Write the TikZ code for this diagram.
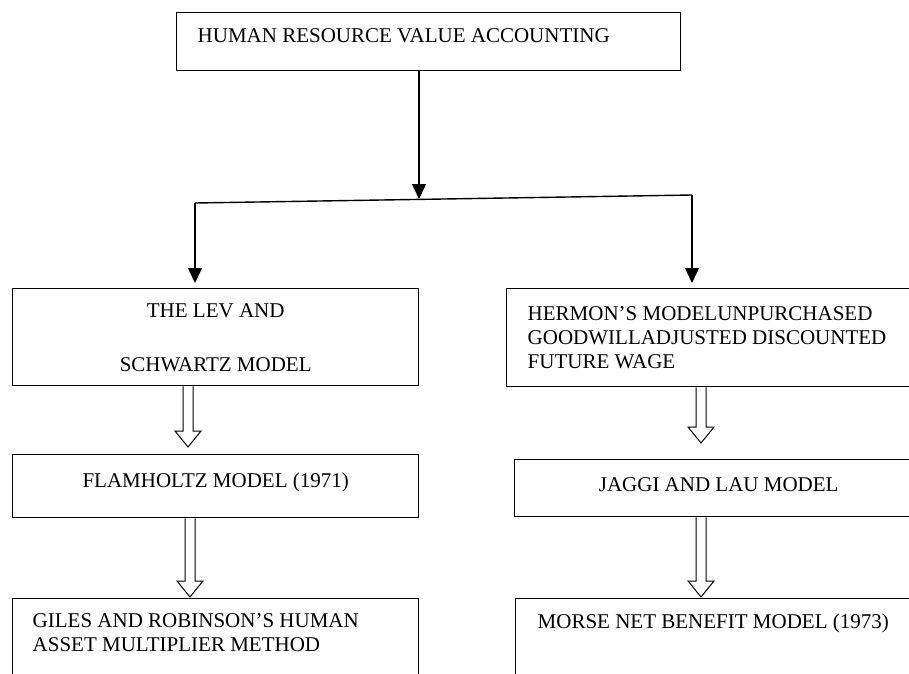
\documentclass[tikz,border=0pt]{standalone}
\usepackage{fontspec}
\setmainfont{Liberation Serif}
\usetikzlibrary{arrows.meta,calc}

\newcommand{\hollowarrow}[4]{%
  \draw[hollow] let \p1=(#1.south), \p2=(#2.north) in
    (#3pt-5pt,\y1) -- (#3pt-5pt,\y2+#4pt+16pt) -- (#3pt-13pt,\y2+#4pt+16pt)
    -- (#3pt,\y2+#4pt) -- (#3pt+13pt,\y2+#4pt+16pt) -- (#3pt+5pt,\y2+#4pt+16pt)
    -- (#3pt+5pt,\y1);}

\begin{document}
\begin{tikzpicture}[
    x=1pt, y=-1pt,
    >={Triangle[length=15pt,width=14pt]},
    every node/.style={font=\fontsize{21pt}{24pt}\selectfont},
    block/.style={
        draw,
        line width=1.4pt,
        anchor=north west,
        inner sep=0pt
    },
    link/.style={line width=1.4pt},
    hollow/.style={line width=1pt, line join=miter}
]
\clip (0,0) rectangle (909,673);

\node[block, inner xsep=21pt, inner ysep=16pt] (hrva) at (176,12)
    {\parbox[t][26pt][t]{462pt}{\raggedright HUMAN RESOURCE VALUE ACCOUNTING}};
\node[block, inner xsep=10pt, inner ysep=15pt] (lev) at (12,288)
    {\parbox[t][67pt][t]{386pt}{\centering THE LEV AND\\[30pt]SCHWARTZ MODEL}};
\node[block, inner xsep=21pt, inner ysep=18pt] (hermon) at (506,288)
    {\parbox[t][62pt][t]{377pt}{\raggedright HERMON’S MODELUNPURCHASED\\GOODWILLADJUSTED DISCOUNTED\\FUTURE WAGE}};
\node[block, inner xsep=10pt, inner ysep=18pt] (flam) at (12,454)
    {\parbox[t][27pt][t]{386pt}{\centering FLAMHOLTZ MODEL (1971)}};
\node[block, inner xsep=10pt, inner ysep=18pt] (jaggi) at (514,459)
    {\parbox[t][21pt][t]{388pt}{\centering JAGGI AND LAU MODEL}};
\node[block, inner xsep=20pt, inner ysep=15pt] (giles) at (12,598)
    {\parbox[t][70pt][t]{366pt}{\raggedright GILES AND ROBINSON’S HUMAN\\ASSET MULTIPLIER METHOD}};
\node[block, inner xsep=22pt, inner ysep=15pt] (morse) at (515,598)
    {\parbox[t][70pt][t]{380pt}{\raggedright MORSE NET BENEFIT MODEL (1973)}};

\coordinate (split) at (419,199);
\coordinate (bl) at (195,203);
\coordinate (br) at (692,195);

\draw[link, ->] (hrva.south -| split) -- (split);
\draw[link] (bl) -- (br);
\draw[link, ->, shorten >=5pt] (bl) -- (bl |- lev.north);
\draw[link, ->, shorten >=5pt] (br) -- (br |- hermon.north);

\hollowarrow{lev}{flam}{188}{7}
\hollowarrow{hermon}{jaggi}{701}{16}
\hollowarrow{flam}{giles}{190}{1}
\hollowarrow{jaggi}{morse}{701}{1}
\end{tikzpicture}
\end{document}
